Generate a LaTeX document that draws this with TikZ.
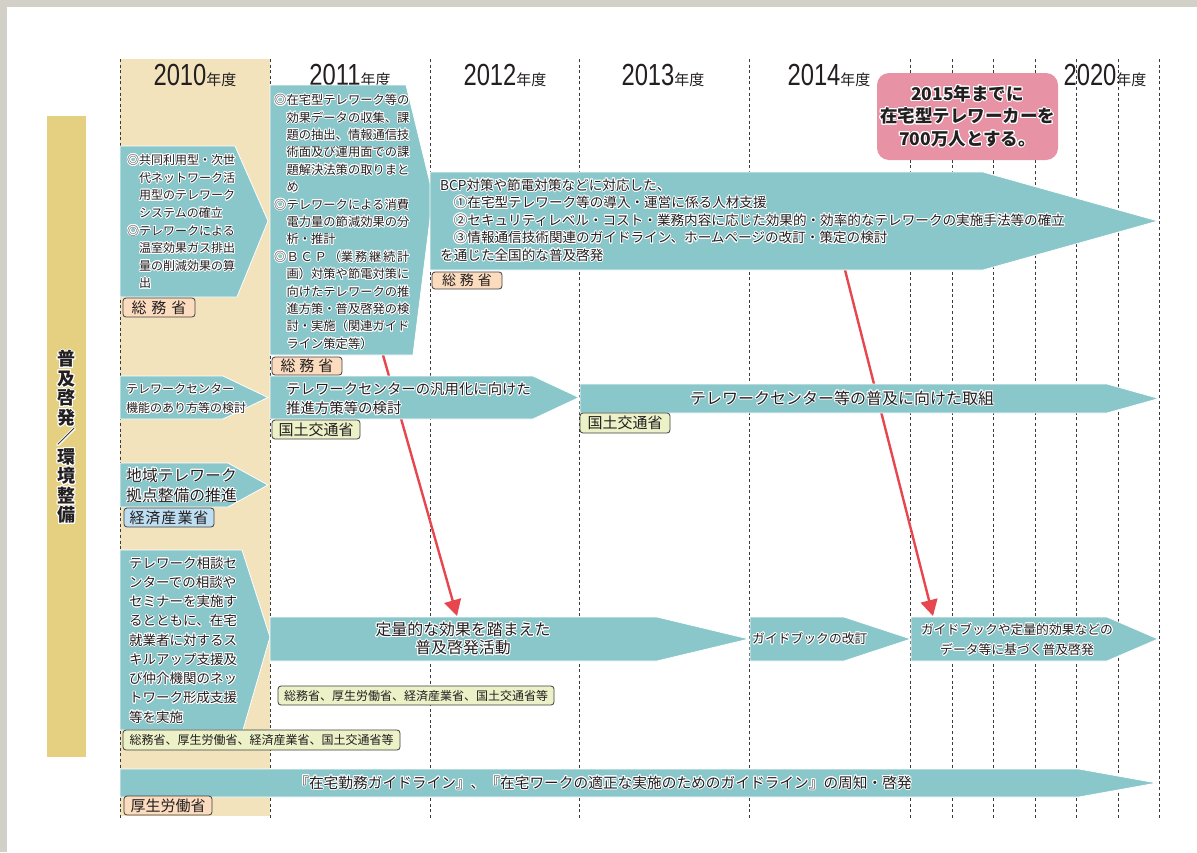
\documentclass[tikz,border=0pt]{standalone}
\usepackage{fontspec}
\setmainfont{Noto Sans CJK JP}
\newfontfamily\digfont{Liberation Sans}
\usepackage[copies]{contour}
\usetikzlibrary{arrows.meta}
\contourlength{0.9pt}
\newcommand{\ct}[1]{\contour{white}{#1}}
\newcommand{\yearlab}[1]{{\digfont\fontsize{30.5}{30.5}\selectfont\scalebox{0.78}[1]{#1}}{\fontsize{15}{15}\selectfont 年度}}
\definecolor{tealc}{HTML}{8AC7CB}
\definecolor{tanc}{HTML}{F2E3BD}
\definecolor{barc}{HTML}{E4D080}
\definecolor{pinkc}{HTML}{E892A6}
\definecolor{redc}{HTML}{E8464F}
\definecolor{peachc}{HTML}{FCDCBE}
\definecolor{ygc}{HTML}{ECF1C8}
\definecolor{bluec}{HTML}{BEDEF2}
\definecolor{textc}{HTML}{231F20}
\definecolor{gridc}{HTML}{3A3A3A}
\definecolor{framec}{HTML}{D3D0C8}
\definecolor{tagline}{HTML}{3F3F3F}
\begin{document}
\begin{tikzpicture}[x=1pt,y=-1pt,
  tealshape/.style={fill=tealc, draw=white, line width=0.8pt},
  txt/.style={inner sep=0pt, text=textc},
  tagbox/.style={draw=tagline, line width=0.8pt, rounded corners=3pt, inner sep=0pt, text=textc},
  gridline/.style={draw=gridc, line width=0.9pt, dash pattern=on 3pt off 2.6pt},
  redarr/.style={draw=redc, line width=2.4pt, -{Triangle[length=16pt,width=17pt]}}]
\useasboundingbox (0,0) rectangle (1197,852);
\fill[white] (0,0) rectangle (1197,852);
\fill[framec] (0,0) rectangle (1197,7);
\fill[framec] (0,0) rectangle (7,852);
% 2010 band and side bar
\fill[tanc] (120,59) rectangle (270,816);
\fill[barc] (47,116) rectangle (86,757);
\node[txt, align=center, font=\fontsize{18}{19.5}\selectfont\bfseries] (vlabel) at (66.5,437.5)
  {\ct{普}\\\ct{及}\\\ct{啓}\\\ct{発}\\\ct{／}\\\ct{環}\\\ct{境}\\\ct{整}\\\ct{備}};
% grid
\foreach \gx in {120,270,430,579,749,910,952,993,1035,1076,1118,1159}
  \draw[gridline] (\gx,59) -- (\gx,818);
% year labels
\node[txt, anchor=base] (y2010) at (195,85) {\yearlab{2010}};
\node[txt, anchor=base] (y2011) at (350,85) {\yearlab{2011}};
\node[txt, anchor=base] (y2012) at (505,85) {\yearlab{2012}};
\node[txt, anchor=base] (y2013) at (663,85) {\yearlab{2013}};
\node[txt, anchor=base] (y2014) at (829,85) {\yearlab{2014}};
\node[txt, anchor=base] (y2020) at (1105,85) {\yearlab{2020}};
% red connectors (behind bars)
\coordinate (r1s) at (383,355);
\coordinate (r1e) at (457,616);
\coordinate (r2s) at (845,270);
\coordinate (r2e) at (933,616);
\draw[redarr] (r1s) -- (r1e);
\draw[redarr] (r2s) -- (r2e);
% teal shapes
\path[tealshape] (120,146) -- (235,146) -- (268,221) -- (237,297) -- (120,297) -- cycle;
\path[tealshape] (270,85) -- (406,85) -- (433,195) -- (413,355) -- (270,355) -- cycle;
\path[tealshape] (430,172) -- (983,172) -- (1158,221) -- (983,270) -- (430,270) -- cycle;
\path[tealshape] (120,376) -- (223,376) -- (268,397.5) -- (223,419) -- (120,419) -- cycle;
\path[tealshape] (270,376) -- (533,376) -- (579,397.5) -- (533,419) -- (270,419) -- cycle;
\path[tealshape] (580,384) -- (1107,384) -- (1159,398.5) -- (1107,413) -- (580,413) -- cycle;
\path[tealshape] (120,463) -- (228,463) -- (268,485) -- (228,507) -- (120,507) -- cycle;
\path[tealshape] (120,550) -- (242,550) -- (270,637) -- (243,730) -- (120,730) -- cycle;
\path[tealshape] (270,617) -- (657,617) -- (749,639) -- (657,661) -- (270,661) -- cycle;
\path[tealshape] (750,617) -- (844,617) -- (911,639) -- (844,661) -- (750,661) -- cycle;
\path[tealshape] (911,617) -- (1107,617) -- (1158,639) -- (1107,661) -- (911,661) -- cycle;
\path[tealshape] (120,769) -- (1079,769) -- (1157,783) -- (1079,797) -- (120,797) -- cycle;
% pink goal box
\node[fill=pinkc, rounded corners=12pt, minimum width=181pt, minimum height=87pt, inner sep=0pt,
      text=textc, align=center, font=\fontsize{17.5}{22.5}\selectfont\bfseries] (goal) at (967.5,116.5)
  {\ct{2015年までに}\\\ct{在宅型テレワーカーを}\\\ct{700万人とする。}};
% texts
\node[txt, anchor=base west, text width=140pt, font=\fontsize{12}{17.6}\selectfont] (t2010a) at (127,164.6)
  {\ct{◎共同利用型・次世}\\\hspace*{1em}\ct{代ネットワーク活}\\\hspace*{1em}\ct{用型のテレワーク}\\\hspace*{1em}\ct{システムの確立}\\
   \ct{◎テレワークによる}\\\hspace*{1em}\ct{温室効果ガス排出}\\\hspace*{1em}\ct{量の削減効果の算}\\\hspace*{1em}\ct{出}};
\node[txt, anchor=base west, text width=160pt, font=\fontsize{12.3}{17.4}\selectfont] (t2011a) at (274,104.7)
  {\ct{◎在宅型テレワーク等の}\\\hspace*{1em}\ct{効果データの収集、課}\\\hspace*{1em}\ct{題の抽出、情報通信技}\\\hspace*{1em}\ct{術面及び運用面での課}\\\hspace*{1em}\ct{題解決法策の取りまと}\\\hspace*{1em}\ct{め}\\
   \ct{◎テレワークによる消費}\\\hspace*{1em}\ct{電力量の節減効果の分}\\\hspace*{1em}\ct{析・推計}\\
   \ct{◎}\makebox[10em][s]{\ct{Ｂ}\hfill\ct{Ｃ}\hfill\ct{Ｐ}\hfill\ct{（業}\hfill\ct{務}\hfill\ct{継}\hfill\ct{続}\hfill\ct{計}}\\\hspace*{1em}\ct{画）対策や節電対策に}\\\hspace*{1em}\ct{向けたテレワークの推}\\\hspace*{1em}\ct{進方策・普及啓発の検}\\\hspace*{1em}\ct{討・実施（関連ガイド}\\\hspace*{1em}\ct{ライン策定等）}};
\node[txt, anchor=base west, text width=700pt, font=\fontsize{13.6}{17.5}\selectfont] (tbcp) at (440,190.2)
  {\ct{BCP対策や節電対策などに対応した、}\\
   \hspace*{1em}\ct{①在宅型テレワーク等の導入・運営に係る人材支援}\\
   \hspace*{1em}\ct{②セキュリティレベル・コスト・業務内容に応じた効果的・効率的なテレワークの実施手法等の確立}\\
   \hspace*{1em}\ct{③情報通信技術関連のガイドライン、ホームページの改訂・策定の検討}\\
   \ct{を通じた全国的な普及啓発}};
\node[txt, anchor=base west, text width=140pt, font=\fontsize{12}{19}\selectfont] (t2010b) at (126,393.6)
  {\ct{テレワークセンター}\\\ct{機能のあり方等の検討}};
\node[txt, anchor=base west, text width=300pt, font=\fontsize{14.4}{19}\selectfont] (t2011b) at (286,394.5)
  {\ct{テレワークセンターの汎用化に向けた}\\\ct{推進方策等の検討}};
\node[txt, font=\fontsize{16}{16}\selectfont] (t2013b) at (842,398.5)
  {\ct{テレワークセンター等の普及に向けた取組}};
\node[txt, anchor=base west, text width=140pt, font=\fontsize{15.8}{20}\selectfont] (t2010c) at (126,481)
  {\ct{地域テレワーク}\\\ct{拠点整備の推進}};
\node[txt, anchor=base west, text width=140pt, font=\fontsize{13.5}{19.25}\selectfont] (t2010d) at (129,568.1)
  {\ct{テレワーク相談セ}\\\ct{ンターでの相談や}\\\ct{セミナーを実施す}\\\ct{るとともに、在宅}\\\ct{就業者に対するス}\\\ct{キルアップ支援及}\\\ct{び仲介機関のネッ}\\\ct{トワーク形成支援}\\\ct{等を実施}};
\node[txt, align=center, font=\fontsize{15.9}{18.3}\selectfont] (t2011d) at (463,639)
  {\ct{定量的な効果を踏まえた}\\\ct{普及啓発活動}};
\node[txt, anchor=west, font=\fontsize{12.8}{12.8}\selectfont] (t2014d) at (752,639)
  {\ct{ガイドブックの改訂}};
\node[txt, align=center, font=\fontsize{12.8}{20}\selectfont] (t2015d) at (1017,640)
  {\ct{ガイドブックや定量的効果などの}\\\ct{データ等に基づく普及啓発}};
\node[txt, font=\fontsize{14.7}{14.7}\selectfont] (tbottom) at (603,783)
  {\ct{『在宅勤務ガイドライン』、『在宅ワークの適正な実施のためのガイドライン』の周知・啓発}};
% ministry tags
\node[tagbox, fill=peachc, minimum width=72pt, minimum height=19pt, font=\fontsize{15}{15}\selectfont] (tagA) at (159,307.5) {総\kern5pt 務\kern5pt 省};
\node[tagbox, fill=peachc, minimum width=70pt, minimum height=18pt, font=\fontsize{15}{15}\selectfont] (tagB) at (307,366) {総\kern4pt 務\kern4pt 省};
\node[tagbox, fill=peachc, minimum width=70pt, minimum height=17pt, font=\fontsize{14}{14}\selectfont] (tagC) at (467,280.5) {総\kern4pt 務\kern4pt 省};
\node[tagbox, fill=ygc, minimum width=88pt, minimum height=19pt, font=\fontsize{15}{15}\selectfont] (tagD) at (316,429.5) {国土交通省};
\node[tagbox, fill=ygc, minimum width=90pt, minimum height=20pt, font=\fontsize{15}{15}\selectfont] (tagE) at (625,423) {国土交通省};
\node[tagbox, fill=bluec, minimum width=90pt, minimum height=19pt, font=\fontsize{15}{15}\selectfont] (tagF) at (169,517.5) {経\kern1pt 済\kern1pt 産\kern1pt 業\kern1pt 省};
\node[tagbox, fill=ygc, minimum width=277pt, minimum height=20pt, font=\fontsize{12}{12}\selectfont] (tagG) at (261.5,740) {総務省、厚生労働省、経済産業省、国土交通省等};
\node[tagbox, fill=ygc, minimum width=276pt, minimum height=19pt, font=\fontsize{12}{12}\selectfont] (tagH) at (416,695.5) {総務省、厚生労働省、経済産業省、国土交通省等};
\node[tagbox, fill=peachc, minimum width=88pt, minimum height=19pt, font=\fontsize{15}{15}\selectfont] (tagI) at (168,805.5) {厚生労働省};
\end{tikzpicture}
\end{document}
